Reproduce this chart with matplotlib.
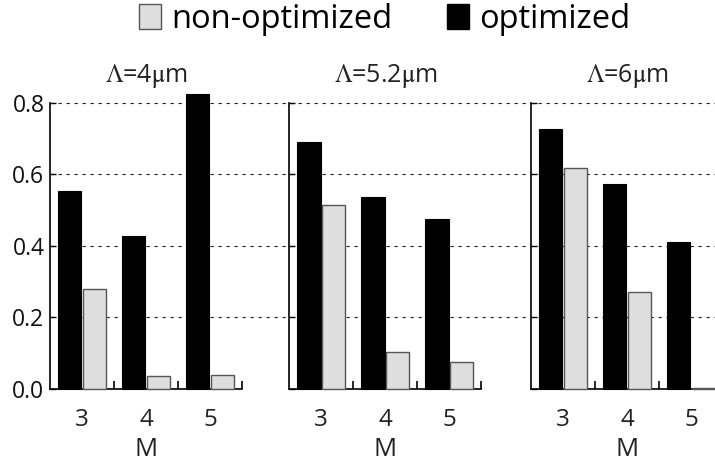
import matplotlib
matplotlib.use("Agg")
import matplotlib.pyplot as plt
from matplotlib.patches import Patch
import numpy as np

plt.rcParams['font.family'] = ['Open Sans', 'DejaVu Sans']
plt.rcParams['mathtext.fontset'] = 'stix'

# ---- data ----
M_labels = ["3", "4", "5"]
panel_titles = [r"$\Lambda$=4$\mathrm{\mu}$m", r"$\Lambda$=5.2$\mathrm{\mu}$m", r"$\Lambda$=6$\mathrm{\mu}$m"]
optimized = [
    [0.553, 0.427, 0.823],
    [0.691, 0.537, 0.474],
    [0.727, 0.573, 0.412],
]
non_optimized = [
    [0.279, 0.037, 0.039],
    [0.515, 0.102, 0.076],
    [0.618, 0.270, 0.004],
]
grid_vals = [0.2, 0.4, 0.6, 0.8]
yticks = [0.0, 0.2, 0.4, 0.6, 0.8]

W, H = 715, 461
fig = plt.figure(figsize=(W / 100, H / 100), dpi=100)

ax_bottom_px = 389.0
ax_top_px = 102.7
ax_w_px = 192.0
lefts_px = [50.0, 289.3, 531.0]

b = (H - ax_bottom_px) / H
h = (ax_bottom_px - ax_top_px) / H

# background grid spanning the whole width
ax_bg = fig.add_axes([lefts_px[0] / W, b, (W - lefts_px[0]) / W, h], zorder=0)
ax_bg.set_ylim(0, 0.8)
ax_bg.set_xlim(0, 1)
ax_bg.axis('off')
for g in grid_vals:
    ax_bg.axhline(g, color='#222222', lw=0.8, ls=(0, (3, 4.2)), clip_on=False)

grey = '#dedede'
bw = 0.365
off = 0.195
x = np.arange(len(M_labels))

for i, lp in enumerate(lefts_px):
    ax = fig.add_axes([lp / W, b, ax_w_px / W, h], zorder=1)
    ax.patch.set_visible(False)
    ax.bar(x - off, optimized[i], width=bw, color='black', edgecolor='black',
           linewidth=0.8, clip_on=False, zorder=3)
    ax.bar(x + off, non_optimized[i], width=bw, color=grey, edgecolor='#555555',
           linewidth=1.0, clip_on=False, zorder=3)
    ax.set_xlim(-0.5, 2.5)
    ax.set_ylim(0, 0.8)
    for s in ['top', 'right']:
        ax.spines[s].set_visible(False)
    for s in ['left', 'bottom']:
        ax.spines[s].set_linewidth(1.2)
        ax.spines[s].set_color('black')
    ax.set_xticks(x)
    ax.set_xticklabels(M_labels, fontsize=17.5, color='#222222')
    ax.set_xticks([0.5, 1.5, 2.5], minor=True)
    ax.tick_params(axis='x', which='major', length=0, pad=14)
    ax.tick_params(axis='x', which='minor', direction='in', length=6, width=1.2)
    ax.set_yticks(yticks)
    ax.tick_params(axis='y', which='major', direction='in', length=4, width=1.0, pad=4)
    if i == 0:
        ax.set_yticklabels([f"{v:.1f}" for v in yticks], fontsize=16.5, color='#111111')
    else:
        ax.set_yticklabels([])
    ax.text(0.5, 1.072, panel_titles[i], transform=ax.transAxes, ha='center',
            va='baseline', fontsize=18, color='#222222')
    ax.text(0.5, -0.235, "M", transform=ax.transAxes, ha='center',
            va='baseline', fontsize=18.5, color='#222222')

handles = [Patch(facecolor=grey, edgecolor='#555555', linewidth=1.0, label='non-optimized'),
           Patch(facecolor='black', edgecolor='black', label='optimized')]
fig.legend(handles=handles, loc='center', bbox_to_anchor=(0.538, 0.958), ncol=2,
           frameon=False, fontsize=23.5, handlelength=0.66, handleheight=0.82,
           handletextpad=0.3, columnspacing=1.7, borderpad=0, borderaxespad=0)

fig.savefig("out.png", dpi=100)
